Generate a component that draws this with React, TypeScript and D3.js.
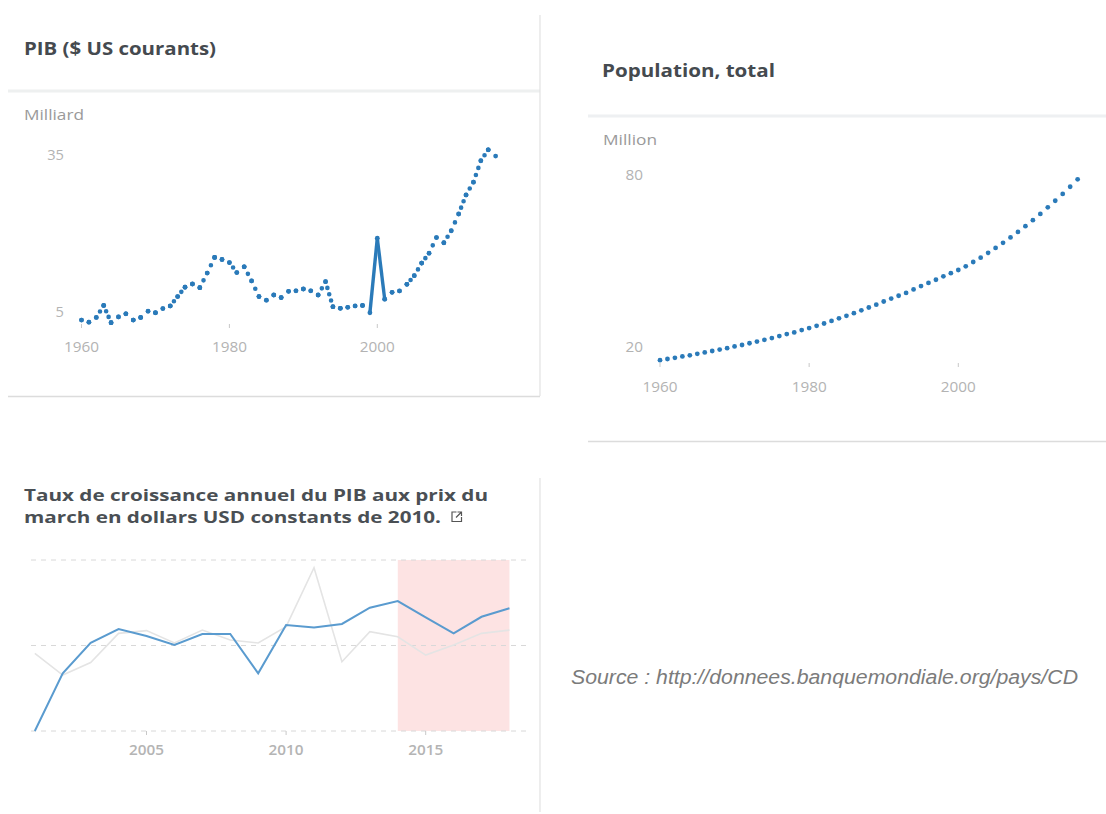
import React from 'react';
import * as d3 from 'd3';

// PIB ($ US courants), milliards, 1960-2016
const gdpYears = d3.range(1960, 2017);
const gdpValues = [
  3.4, 3.0, 3.9, 6.2, 2.9, 4.0, 4.6, 3.4, 3.9, 5.1,
  4.8, 5.6, 6.1, 7.9, 9.7, 10.3, 9.6, 12.4, 15.4, 15.0,
  14.4, 12.5, 13.6, 10.9, 7.9, 7.2, 8.2, 7.7, 8.9, 9.0,
  9.35, 9.0, 8.2, 10.75, 5.96, 5.65, 5.84, 6.1, 6.2, 4.8,
  19.06, 7.4, 8.7, 8.97, 10.25, 11.9, 14.3, 16.2, 19.2, 18.2,
  20.5, 23.7, 27.35, 29.8, 33.9, 36.0, 34.8,
];
const gdpYTicks = [5, 35];
const gdpXTicks = [1960, 1980, 2000];

// Population, total, millions, 1960-2016
const popYears = d3.range(1960, 2017);
const popValues = [
  15.3, 15.7, 16.1, 16.6, 17.0, 17.5, 18.0, 18.5, 19.0, 19.5,
  20.1, 20.6, 21.2, 21.8, 22.4, 23.0, 23.7, 24.4, 25.0, 25.8,
  26.5, 27.3, 28.1, 29.0, 29.9, 30.8, 31.7, 32.7, 33.7, 34.7,
  35.8, 36.8, 37.8, 38.8, 40.0, 41.2, 42.3, 43.4, 44.6, 45.7,
  46.8, 48.1, 49.6, 51.1, 52.8, 54.5, 56.3, 58.2, 60.1, 62.1,
  64.2, 66.4, 68.7, 71.0, 73.4, 75.9, 78.5,
];
const popYTicks = [20, 80];
const popXTicks = [1960, 1980, 2000];

// Taux de croissance annuel, 2001-2018
const growthYears = d3.range(2001, 2019);
const growthValues = [
  0.0, 3.37, 5.16, 5.96, 5.56, 5.03, 5.67, 5.67, 3.37, 6.2,
  6.06, 6.26, 7.21, 7.6, 6.65, 5.71, 6.68, 7.18,
];
const compareValues = [
  4.54, 3.27, 4.0, 5.71, 5.87, 5.15, 5.9, 5.32, 5.15, 6.1,
  9.55, 4.05, 5.81, 5.51, 4.44, 5.03, 5.71, 5.9,
];
const growthGrid = [0, 5, 10];
const growthXTicks = [2005, 2010, 2015];
const forecastRange = [2014, 2018];

const FONT = "'Open Sans', sans-serif";
const BLUE = '#2a7ab9';
const TICK = '#b3b3b3';

// the source image is a bit stretched sideways, so text is fitted to measured widths
function Label(props: any) {
  const { w, children, ...rest } = props;
  return (
    <text fontFamily={FONT} textLength={w} lengthAdjust="spacingAndGlyphs" {...rest}>
      {children}
    </text>
  );
}

export default function App() {
  // PIB scales
  const gx = d3.scaleLinear().domain([1960, 2000]).range([81.5, 377.3]);
  const gy = d3.scaleLinear().domain([5, 35]).range([311.7, 155]);
  const gdpPts = gdpYears.map((yr, i) => [gx(yr), gy(gdpValues[i])] as [number, number]);

  // Population scales
  const px = d3.scaleLinear().domain([1960, 2000]).range([660, 958.3]);
  const py = d3.scaleLinear().domain([20, 80]).range([346.7, 175]);

  // Growth scales
  const cx = d3.scaleLinear().domain([2005, 2015]).range([146.5, 425.7]);
  const cy = d3.scaleLinear().domain([0, 10]).range([731, 560]);
  const growthLine = d3.line<number>().x((_, i) => cx(growthYears[i])).y((d) => cy(d));

  return (
    <svg width={1106} height={814} style={{ position: 'absolute', left: 0, top: 0, background: '#fff' }}>
      {/* panel frames */}
      <line x1={8} x2={540} y1={91} y2={91} stroke="#eef0f0" strokeWidth={3} />
      <line x1={8} x2={540} y1={396.5} y2={396.5} stroke="#dcdcdc" strokeWidth={1.5} />
      <line x1={540} x2={540} y1={15} y2={396} stroke="#e2e2e2" strokeWidth={1.2} />
      <line x1={588} x2={1106} y1={116} y2={116} stroke="#eef0f2" strokeWidth={3} />
      <line x1={588} x2={1106} y1={441.5} y2={441.5} stroke="#dcdcdc" strokeWidth={1.5} />
      <line x1={540} x2={540} y1={478} y2={812} stroke="#e2e2e2" strokeWidth={1.2} />

      {/* PIB */}
      <Label x={24} y={54.5} w={192} fontWeight={700} fontSize={18.5} fill="#454a4f">PIB ($ US courants)</Label>
      <Label x={24} y={119.5} w={60} fontSize={15} fill="#9a9a9a">Milliard</Label>
      {gdpYTicks.map((t) => (
        <Label key={t} x={64} y={gy(t) + 5} w={String(t).length * 8.4} textAnchor="end" fontSize={14.5} fill={TICK}>{t}</Label>
      ))}
      {gdpXTicks.map((t) => (
        <g key={t}>
          <line x1={gx(t)} x2={gx(t)} y1={324} y2={328} stroke="#c8c8c8" />
          <Label x={gx(t)} y={351.5} w={35} textAnchor="middle" fontSize={14.5} fill={TICK}>{t}</Label>
        </g>
      ))}
      {gdpPts.slice(1).map((p, i) => {
        const q = gdpPts[i];
        const len = Math.hypot(p[0] - q[0], p[1] - q[1]);
        if (Math.abs(p[1] - q[1]) > 40) {
          return <line key={i} x1={q[0]} y1={q[1]} x2={p[0]} y2={p[1]} stroke={BLUE} strokeWidth={3.4} />;
        }
        const n = Math.max(1, Math.round(len / 7.4));
        return (
          <line key={i} x1={q[0]} y1={q[1]} x2={p[0]} y2={p[1]} stroke={BLUE}
            strokeWidth={4.6} strokeLinecap="round" strokeDasharray={`0 ${len / n}`} />
        );
      })}
      {gdpPts.map((p, i) => (
        <circle key={i} cx={p[0]} cy={p[1]} r={2.4} fill={BLUE} />
      ))}

      {/* Population */}
      <Label x={602} y={76.5} w={173} fontWeight={700} fontSize={18.5} fill="#454a4f">Population, total</Label>
      <Label x={603} y={145} w={54} fontSize={15} fill="#9a9a9a">Million</Label>
      {popYTicks.map((t) => (
        <Label key={t} x={643} y={py(t) + 5} w={17.5} textAnchor="end" fontSize={14.5} fill={TICK}>{t}</Label>
      ))}
      {popXTicks.map((t) => (
        <g key={t}>
          <line x1={px(t)} x2={px(t)} y1={363} y2={367} stroke="#c8c8c8" />
          <Label x={px(t)} y={391.5} w={35} textAnchor="middle" fontSize={14.5} fill={TICK}>{t}</Label>
        </g>
      ))}
      {popYears.map((yr, i) => (
        <circle key={yr} cx={px(yr)} cy={py(popValues[i])} r={2.4} fill={BLUE} />
      ))}

      {/* Growth */}
      <Label x={24} y={501} w={464} fontWeight={700} fontSize={16.5} fill="#4a4f54">Taux de croissance annuel du PIB aux prix du</Label>
      <Label x={24} y={523} w={417} fontWeight={700} fontSize={16.5} fill="#4a4f54">march en dollars USD constants de 2010.</Label>
      <g transform="translate(451.5,511.5)" fill="none" stroke="#555" strokeWidth={1.2}>
        <path d="M5,0.5 H0.5 V10 H10 V5.5" />
        <path d="M6,0.5 H10 V4.5 M10,0.5 L4.5,6" />
      </g>
      <rect x={cx(forecastRange[0])} width={cx(forecastRange[1]) - cx(forecastRange[0])} y={cy(10)} height={cy(0) - cy(10)} fill="#fde3e3" />
      {growthGrid.map((g) => (
        <line key={g} x1={31} x2={526} y1={cy(g)} y2={cy(g)} stroke="#d8d8d8" strokeDasharray="5,5" />
      ))}
      {growthXTicks.map((t) => (
        <g key={t}>
          <line x1={cx(t)} x2={cx(t)} y1={731} y2={735} stroke="#c8c8c8" />
          <Label x={cx(t)} y={755} w={35} textAnchor="middle" fontWeight={600} fontSize={13.5} fill="#b4b4b4">{t}</Label>
        </g>
      ))}
      <path d={growthLine(compareValues) || ''} fill="none" stroke="#e4e4e4" strokeWidth={1.6} />
      <path d={growthLine(growthValues) || ''} fill="none" stroke="#5a9bcf" strokeWidth={2} />

      <text x={571} y={684} fontFamily="'Liberation Sans', Arial, sans-serif" fontStyle="italic" fontSize={19.5}
        fill="#7b7b7b" textLength={507} lengthAdjust="spacingAndGlyphs">
        Source : http://donnees.banquemondiale.org/pays/CD
      </text>
    </svg>
  );
}
